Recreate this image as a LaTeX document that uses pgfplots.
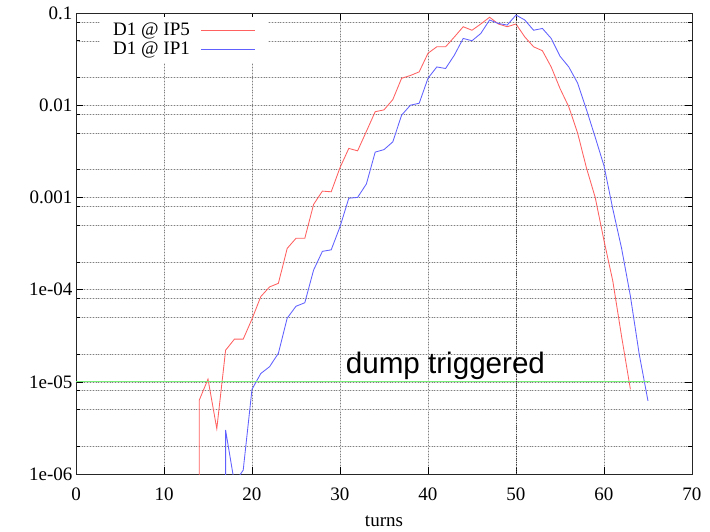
\documentclass[border=0pt]{standalone}
\usepackage{pgfplots}
\pgfplotsset{compat=1.18}
\usepackage{fontspec}
\setmainfont{Liberation Serif}
\newfontfamily\labelsans{Liberation Sans}

\definecolor{ipfive}{RGB}{255,96,96}
\definecolor{ipone}{RGB}{96,96,255}
\definecolor{dumpgreen}{RGB}{120,240,120}

\begin{document}
\begin{tikzpicture}
\begin{axis}[
  name=ax,
  scale only axis, width=616bp, height=461bp,
  xmin=0, xmax=70, ymin=1e-6, ymax=0.1,
  ymode=log,
  font=\fontsize{19bp}{22bp}\selectfont,
  /pgf/number format/assume math mode=true,
  xtick={0,10,...,70},
  ytick={1e-6,1e-5,1e-4,1e-3,1e-2,1e-1},
  yticklabels={1e-06,1e-05,1e-04,0.001,0.01,0.1},
  minor ytick={2e-6,5e-6,8e-6,2e-5,5e-5,8e-5,2e-4,5e-4,8e-4,2e-3,5e-3,8e-3,2e-2,5e-2,8e-2},
  xticklabel style={yshift=-10bp},
  xlabel={turns},
  xlabel style={yshift=-9bp},
  tick align=inside,
  major tick length=7bp, minor tick length=4bp,
  tick style={black, line width=0.6bp},
  axis line style={black!85, line width=0.9bp},
  xmajorgrids=true, ymajorgrids=true, yminorgrids=true,
  major grid style={gray!30, line width=0.5bp, postaction={draw, black!50, line width=0.5bp, dash pattern=on 0.8bp off 2bp}},
  minor grid style={gray!30, line width=0.5bp, postaction={draw, black!50, line width=0.5bp, dash pattern=on 0.8bp off 2bp}},
  legend plot pos=right,
  legend cell align=right,
  legend image code/.code={\draw[#1, line width=0.9bp] (0bp,0bp) -- (54bp,0bp);},
  legend style={at={(0.039,0.9925)}, anchor=north west, draw=none, fill=white,
    inner xsep=12bp, inner ysep=4bp, column sep=10bp,
    nodes={inner sep=1bp, text height=13.5bp, text depth=3.5bp},
    font=\fontsize{19bp}{22bp}\selectfont},
]
% beam loss at the D1 magnet next to IP5
\addplot[ipfive, line width=0.85bp] coordinates {
  (14,1e-7) (14,6.3e-6) (15,1.07e-5) (16,3.1e-6) (17,2.2e-5) (18,2.9e-5)
  (19,2.9e-5) (20,4.8e-5) (21,8.4e-5) (22,1.07e-4) (23,1.17e-4) (24,2.8e-4)
  (25,3.6e-4) (26,3.6e-4) (27,8.4e-4) (28,1.17e-3) (29,1.15e-3) (30,2.1e-3)
  (31,3.4e-3) (32,3.2e-3) (33,5.2e-3) (34,8.5e-3) (35,8.9e-3) (36,1.15e-2)
  (37,1.96e-2) (38,2.1e-2) (39,2.3e-2) (40,3.66e-2) (41,4.3e-2) (42,4.3e-2)
  (43,5.5e-2) (44,7.1e-2) (45,6.5e-2) (46,7.6e-2) (47,9.0e-2) (48,7.6e-2)
  (49,7.1e-2) (50,7.6e-2) (51,5.5e-2) (52,4.3e-2) (53,3.9e-2) (54,2.6e-2)
  (55,1.52e-2) (56,9.6e-3) (57,5.0e-3) (58,2.1e-3) (59,1.0e-3) (60,3.4e-4)
  (61,1.24e-4) (62,3.1e-5) (63,8.3e-6)
};
\addlegendentry{D1 @ IP5}
% beam loss at the D1 magnet next to IP1
\addplot[ipone, line width=0.85bp] coordinates {
  (17,1e-7) (17,3.0e-6) (18,8e-7) (19,1.1e-6) (20,8.3e-6) (21,1.23e-5)
  (22,1.46e-5) (23,2.04e-5) (24,4.9e-5) (25,6.6e-5) (26,7.2e-5) (27,1.63e-4)
  (28,2.6e-4) (29,2.7e-4) (30,4.8e-4) (31,9.8e-4) (32,1.0e-3) (33,1.4e-3)
  (34,3.1e-3) (35,3.3e-3) (36,4.0e-3) (37,7.8e-3) (38,1.0e-2) (39,1.05e-2)
  (40,1.96e-2) (41,2.6e-2) (42,2.5e-2) (43,3.5e-2) (44,5.3e-2) (45,5.0e-2)
  (46,6.0e-2) (47,8.4e-2) (48,7.7e-2) (49,7.4e-2) (50,9.5e-2) (51,8.4e-2)
  (52,6.5e-2) (53,6.8e-2) (54,5.3e-2) (55,3.4e-2) (56,2.6e-2) (57,1.74e-2)
  (58,9.0e-3) (59,4.5e-3) (60,2.2e-3) (61,7.5e-4) (62,2.8e-4) (63,8.5e-5)
  (64,2.0e-5) (65,6.2e-6)
};
\addlegendentry{D1 @ IP1}
% dump threshold
\addplot[dumpgreen, line width=1bp, forget plot] coordinates {(0,1e-5) (65.2,1e-5)};
% emphasised grid line at turn 50
\addplot[black!75, line width=0.7bp, dash pattern=on 0.8bp off 1.4bp, forget plot] coordinates {(50,1e-6) (50,0.1)};
\node[anchor=base west, inner sep=0pt, font=\labelsans\fontsize{29.6bp}{31bp}\selectfont]
  at (axis cs:30.65,1.236e-5) {dump triggered};
\end{axis}
\pgfresetboundingbox
\path[use as bounding box] ([xshift=-76bp,yshift=-58bp]ax.south west) rectangle ++(710bp,532bp);
\end{tikzpicture}
\end{document}
